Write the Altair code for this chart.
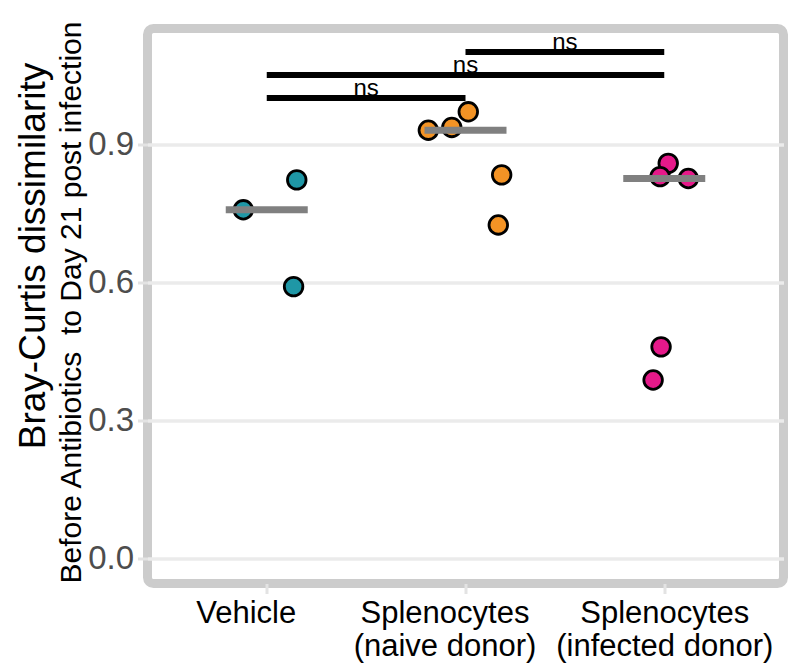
import altair as alt
import pandas as pd

# ---- data ----
groups = ["Vehicle", "Splenocytes (naive donor)", "Splenocytes (infected donor)"]
group_index = [1, 2, 3]
NB = "\u00a0"
tick_label_lines = [["Vehicle"], ["Splenocytes", "(naive donor)"], ["Splenocytes", "(infected donor)"]]
group_colors = ["#1f97a6", "#f39325", "#e6198a"]

vehicle_values = [0.757, 0.822, 0.590]
vehicle_jitter = [-0.118, 0.151, 0.135]
naive_values = [0.930, 0.936, 0.970, 0.833, 0.724]
naive_jitter = [-0.187, -0.069, 0.014, 0.182, 0.165]
infected_values = [0.858, 0.829, 0.825, 0.459, 0.387]
infected_jitter = [0.020, -0.021, 0.121, -0.016, -0.056]

comp_start = [1, 1, 2]
comp_end = [2, 3, 3]
comp_y = [1.00, 1.05, 1.10]
comp_label = ["ns", "ns", "ns"]

y_ticks = [0.0, 0.3, 0.6, 0.9]

title_main = "Bray-Curtis dissimilarity"
title_sub = "Before Antibiotics" + NB + " to Day 21 post infection"

# ---- tables ----
rows = []
for g, i, vals, jit in zip(groups, group_index,
                           [vehicle_values, naive_values, infected_values],
                           [vehicle_jitter, naive_jitter, infected_jitter]):
    for v, j in zip(vals, jit):
        rows.append({"group": g, "idx": i, "value": v, "jitter": j})
df = pd.DataFrame(rows)

comp = pd.DataFrame({"start": comp_start, "end": comp_end, "y": comp_y, "label": comp_label})

FONT = "Liberation Sans"

def js_label(lines):
    if len(lines) == 1:
        return "'" + lines[0] + "'"
    return "[" + ", ".join("'" + s + "'" for s in lines) + "]"

label_expr = ""
for i, lines in zip(group_index[:-1], tick_label_lines[:-1]):
    label_expr += f"datum.value == {i} ? {js_label(lines)} : "
label_expr += js_label(tick_label_lines[-1])

xscale = alt.Scale(domain=[0.4, 3.6], nice=False, zero=False)
yscale = alt.Scale(domain=[-0.0554, 1.1511], nice=False, zero=False)

xaxis = alt.Axis(
    values=group_index, labelExpr=label_expr, title=None, grid=False, domain=False,
    tickColor="#e3e3e3", tickSize=10, tickWidth=3,
    labelFont=FONT, labelFontSize=31, labelColor="black", labelPadding=5,
    labelLineHeight=33, labelFlush=False, labelOverlap=False, labelBaseline="top",
    labelLimit=0,
    labelOffset={"condition": {"test": "datum.value <= 2", "value": -21}, "value": 0},
)

yaxis_main = alt.Axis(
    values=y_ticks, format=".1f", grid=True, gridColor="#ebebeb", gridWidth=3.5,
    domain=False, tickColor="#e3e3e3", tickSize=10, tickWidth=3,
    labelFont=FONT, labelFontSize=33, labelColor="#4d4d4d", labelPadding=4,
    title=title_sub, titleFont=FONT, titleFontSize=30, titleFontWeight="normal",
    titleColor="black", titleAngle=270, titleAlign="center", titleBaseline="alphabetic",
    titleX=-67.5, titleY=273.5, orient="left", titleLimit=0,
)

yaxis_title = alt.Axis(
    labels=False, ticks=False, domain=False, grid=False, orient="left",
    title=title_main, titleFont=FONT, titleFontSize=37, titleFontWeight="normal",
    titleColor="black", titleAngle=270, titleAlign="center", titleBaseline="alphabetic",
    titleX=-103.5, titleY=227, titleLimit=0,
)

points = alt.Chart(df).transform_calculate(
    xpos="datum.idx + datum.jitter"
).mark_circle(size=345, opacity=1, stroke="black", strokeWidth=2.8).encode(
    x=alt.X("xpos:Q", scale=xscale, axis=xaxis),
    y=alt.Y("value:Q", scale=yscale, axis=yaxis_main),
    color=alt.Color("group:N", scale=alt.Scale(domain=groups, range=group_colors), legend=None),
)

medians = alt.Chart(df).transform_aggregate(
    med="median(value)", groupby=["group", "idx"]
).mark_tick(orient="horizontal", size=82, thickness=7, color="#808080", opacity=1).encode(
    x=alt.X("idx:Q", scale=xscale, axis=xaxis),
    y=alt.Y("med:Q", scale=yscale, axis=yaxis_title),
)

bars = alt.Chart(comp).mark_rule(color="black", strokeWidth=6).encode(
    x=alt.X("start:Q", scale=xscale, axis=xaxis),
    x2="end:Q",
    y=alt.Y("y:Q", scale=yscale, axis=None),
)

labels = alt.Chart(comp).transform_calculate(
    mid="(datum.start + datum.end) / 2"
).mark_text(font=FONT, fontSize=24, color="black", baseline="alphabetic", dy=-2).encode(
    x=alt.X("mid:Q", scale=xscale, axis=xaxis),
    y=alt.Y("y:Q", scale=yscale, axis=None),
    text="label:N",
)

chart = alt.layer(points, medians, bars, labels).resolve_axis(y="independent").properties(
    width=636, height=555,
    padding={"left": 147.5, "top": 28.5, "right": 7.5, "bottom": 80.5},
    autosize=alt.AutoSizeParams(type="none"),
    background="white",
).configure_view(
    stroke="#cccccc", strokeWidth=9, cornerRadius=6, fill="white"
)

chart.save("out.html", embed_options={"renderer": "svg", "actions": False})
